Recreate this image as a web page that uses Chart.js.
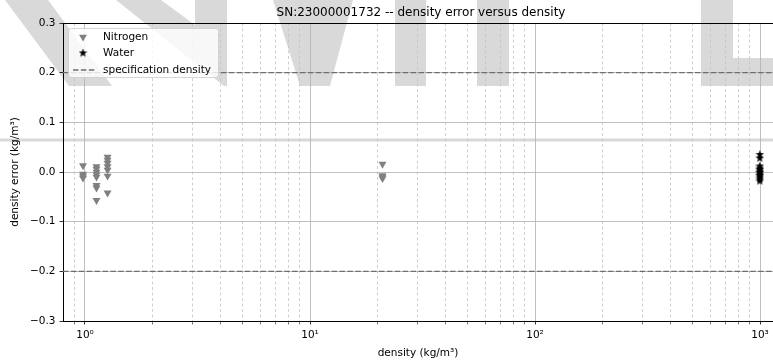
<!DOCTYPE html>
<html>
<head>
<meta charset="utf-8">
<script src="https://cdn.jsdelivr.net/npm/chart.js@4.4.0/dist/chart.umd.min.js"></script>
<style>
  html, body { margin: 0; padding: 0; background: #fff; }
  #wrap { width: 773px; height: 364px; }
</style>
</head>
<body>
<div id="wrap"><canvas id="chart" width="773" height="364"></canvas></div>
<script>
/* DATA */
const titleText = 'SN:23000001732 -- density error versus density';
const nitrogenDensity = [
  0.98, 0.98, 0.98, 0.98,
  1.125, 1.125, 1.125, 1.125, 1.125, 1.125, 1.125, 1.125,
  1.26, 1.26, 1.26, 1.26, 1.26, 1.26, 1.26,
  21, 21, 21, 21,
];
const nitrogenError = [
  0.013, -0.004, -0.008, -0.012,
  0.011, 0.006, 0.0, -0.005, -0.01, -0.027, -0.032, -0.057,
  0.03, 0.024, 0.018, 0.011, 0.004, -0.008, -0.042,
  0.016, -0.007, -0.01, -0.013,
];
const waterDensity = [998, 998, 998, 998, 998, 998, 998, 998, 998, 998, 998, 998];
const waterError = [0.035, 0.028, 0.012, 0.008, 0.005, 0.002, -0.001, -0.004, -0.007, -0.01, -0.014, -0.018];
const specLimits = [0.2, -0.2];
const xRange = [0.7985, 1142];
const yRange = [-0.3, 0.3];
const decadeTicks = [1, 10, 100, 1000];
const decadeLabels = ['10\u2070', '10\u00b9', '10\u00b2', '10\u00b3'];
const minorTicks = [0.9, 2, 3, 4, 5, 6, 7, 8, 9, 20, 30, 40, 50, 60, 70, 80, 90,
  200, 300, 400, 500, 600, 700, 800, 900];

/* COLORS */
const ink = '#000000';
const nitrogenGray = '#808080';
const specGray = '#6e6e6e';
const gridMajor = '#b0b0b0';
const gridMinor = '#c4c4c4';
const wmGray = '#d9d9d9';
const font = 'DejaVu Sans';

const isMajor = (v) => decadeTicks.some((d) => Math.abs(d - v) < 1e-9);

/* filled star marker */
function makeStar(size, color) {
  const c = document.createElement('canvas');
  c.width = size;
  c.height = size;
  const g = c.getContext('2d');
  const R = size / 2, r = R * 0.42;
  g.beginPath();
  for (let i = 0; i < 10; i++) {
    const rad = (i % 2 === 0) ? R : r;
    const a = -Math.PI / 2 + i * Math.PI / 5;
    g.lineTo(R + Math.cos(a) * rad, R + Math.sin(a) * rad);
  }
  g.closePath();
  g.fillStyle = color;
  g.fill();
  return c;
}
const starImg = makeStar(9, ink);

/* watermark outline (figure pixels) */
const watermark = [
  [[5, 0], [48, 0], [112, 86], [69, 86]],
  [[116, 0], [161, 0], [195, 25], [195, 0], [227, 0], [227, 86], [224, 86]],
  [[273, 0], [353, 0], [330, 86], [300, 86]],
  [[395, 0], [426, 0], [426, 86], [395, 86]],
  [[477, 0], [509, 0], [509, 86], [477, 86]],
  [[701, 0], [733, 0], [733, 58], [773, 58], [773, 86], [701, 86]],
];

/* PLUGIN: watermark + frame + title + legend */
const decor = {
  id: 'decor',
  beforeDraw(chart) {
    const ctx = chart.ctx;
    ctx.save();
    ctx.fillStyle = '#fff';
    ctx.fillRect(0, 0, chart.width, chart.height);
    ctx.fillStyle = wmGray;
    watermark.forEach((p) => {
      ctx.beginPath();
      p.forEach(([x, y], i) => (i ? ctx.lineTo(x, y) : ctx.moveTo(x, y)));
      ctx.closePath();
      ctx.fill();
    });
    ctx.fillRect(0, 138.5, chart.width, 3);
    ctx.restore();
  },
  afterDraw(chart) {
    const ctx = chart.ctx;
    const a = chart.chartArea;
    ctx.save();
    // top spine
    ctx.strokeStyle = ink;
    ctx.lineWidth = 1;
    ctx.beginPath();
    ctx.moveTo(a.left, a.top + 0.5);
    ctx.lineTo(a.right, a.top + 0.5);
    ctx.stroke();

    // title
    ctx.fillStyle = ink;
    ctx.font = `12px "${font}"`;
    ctx.textAlign = 'center';
    ctx.textBaseline = 'middle';
    ctx.fillText(titleText, 421, 12.5);

    // legend
    const lx = a.left + 5, ly = a.top + 5, lw = 150, lh = 49;
    ctx.beginPath();
    ctx.roundRect(lx + 0.5, ly + 0.5, lw, lh, 3);
    ctx.fillStyle = 'rgba(255,255,255,0.8)';
    ctx.fill();
    ctx.strokeStyle = 'rgba(204,204,204,0.8)';
    ctx.stroke();

    const mx = lx + 15, tx = lx + 35;
    const rows = [ly + 9, ly + 25, ly + 42];
    Chart.helpers.drawPoint(ctx, {
      pointStyle: 'triangle', rotation: 180, radius: 4.6,
      borderWidth: 0, backgroundColor: nitrogenGray,
    }, mx, rows[0]);
    ctx.fillStyle = nitrogenGray;
    ctx.fill();
    ctx.drawImage(starImg, mx - 4.5, rows[1] - 4.5);
    ctx.strokeStyle = specGray;
    ctx.lineWidth = 1.3;
    ctx.setLineDash([5.5, 2.4]);
    ctx.beginPath();
    ctx.moveTo(lx + 5, rows[2]);
    ctx.lineTo(lx + 27, rows[2]);
    ctx.stroke();
    ctx.setLineDash([]);

    ctx.fillStyle = ink;
    ctx.font = `10.5px "${font}"`;
    ctx.textAlign = 'left';
    ctx.fillText('Nitrogen', tx, rows[0]);
    ctx.fillText('Water', tx, rows[1]);
    ctx.fillText('specification density', tx, rows[2]);
    ctx.restore();
  },
};

/* DATASETS */
const specSets = specLimits.map((v) => ({
  type: 'line',
  data: xRange.map((x) => ({ x, y: v })),
  borderColor: specGray,
  borderWidth: 1.3,
  borderDash: [5.5, 2.4],
  pointRadius: 0,
  order: 3,
}));

new Chart(document.getElementById('chart'), {
  type: 'scatter',
  data: {
    datasets: [
      {
        label: 'Nitrogen',
        data: nitrogenDensity.map((x, i) => ({ x, y: nitrogenError[i] })),
        pointStyle: 'triangle',
        rotation: 180,
        pointRadius: 4.6,
        pointBorderWidth: 0,
        backgroundColor: nitrogenGray,
        borderColor: nitrogenGray,
        order: 2,
      },
      {
        label: 'Water',
        data: waterDensity.map((x, i) => ({ x, y: waterError[i] })),
        pointStyle: starImg,
        pointRadius: 4.5,
        backgroundColor: ink,
        borderColor: ink,
        order: 1,
      },
      ...specSets,
    ],
  },
  options: {
    responsive: false,
    animation: false,
    devicePixelRatio: 1,
    layout: { autoPadding: false, padding: { top: 23, left: 0, right: 0, bottom: 0 } },
    scales: {
      x: {
        type: 'logarithmic',
        min: xRange[0],
        max: xRange[1],
        afterBuildTicks: (s) => {
          s.ticks = [...minorTicks, ...decadeTicks]
            .sort((p, q) => p - q)
            .map((value) => ({ value, major: isMajor(value) }));
        },
        afterFit: (s) => {
          s.height = 43;
          s.paddingLeft = 0;
          s.paddingRight = 0;
        },
        ticks: {
          autoSkip: false,
          maxRotation: 0,
          padding: 4,
          color: ink,
          font: { family: font, size: 10.5 },
          callback: (v) => {
            const i = decadeTicks.findIndex((d) => Math.abs(d - v) < 1e-9);
            return i >= 0 ? decadeLabels[i] : '';
          },
        },
        grid: {
          color: (c) => (c.tick && isMajor(c.tick.value) ? gridMajor : gridMinor),
          lineWidth: 0.8,
          tickLength: 3.5,
          tickColor: (c) => (c.tick && isMajor(c.tick.value) ? ink : '#555'),
        },
        border: {
          display: true,
          color: ink,
          width: 1,
          dash: (c) => (c.tick && !isMajor(c.tick.value) ? [3, 2.5] : []),
        },
        title: {
          display: true,
          text: 'density (kg/m\u00b3)',
          color: ink,
          font: { family: font, size: 10.5 },
          padding: { top: 0, bottom: 4.5 },
        },
      },
      y: {
        min: yRange[0],
        max: yRange[1],
        afterFit: (s) => { s.width = 63; },
        ticks: {
          stepSize: 0.1,
          padding: 4,
          color: ink,
          font: { family: font, size: 10.5 },
          callback: (v) => {
            if (Math.abs(v) < 1e-9) return '0.0';
            const t = Math.abs(v).toFixed(1);
            return v < 0 ? '\u2212' + t : t;
          },
        },
        grid: {
          color: gridMajor,
          lineWidth: 0.8,
          tickLength: 3.5,
          tickColor: ink,
        },
        border: { display: true, color: ink, width: 1 },
        title: {
          display: true,
          text: 'density error (kg/m\u00b3)',
          color: ink,
          font: { family: font, size: 10.5 },
          padding: { top: 9, bottom: 0 },
        },
      },
    },
    plugins: {
      legend: { display: false },
      title: { display: false },
      tooltip: { enabled: false },
    },
  },
  plugins: [decor],
});
</script>
</body>
</html>
